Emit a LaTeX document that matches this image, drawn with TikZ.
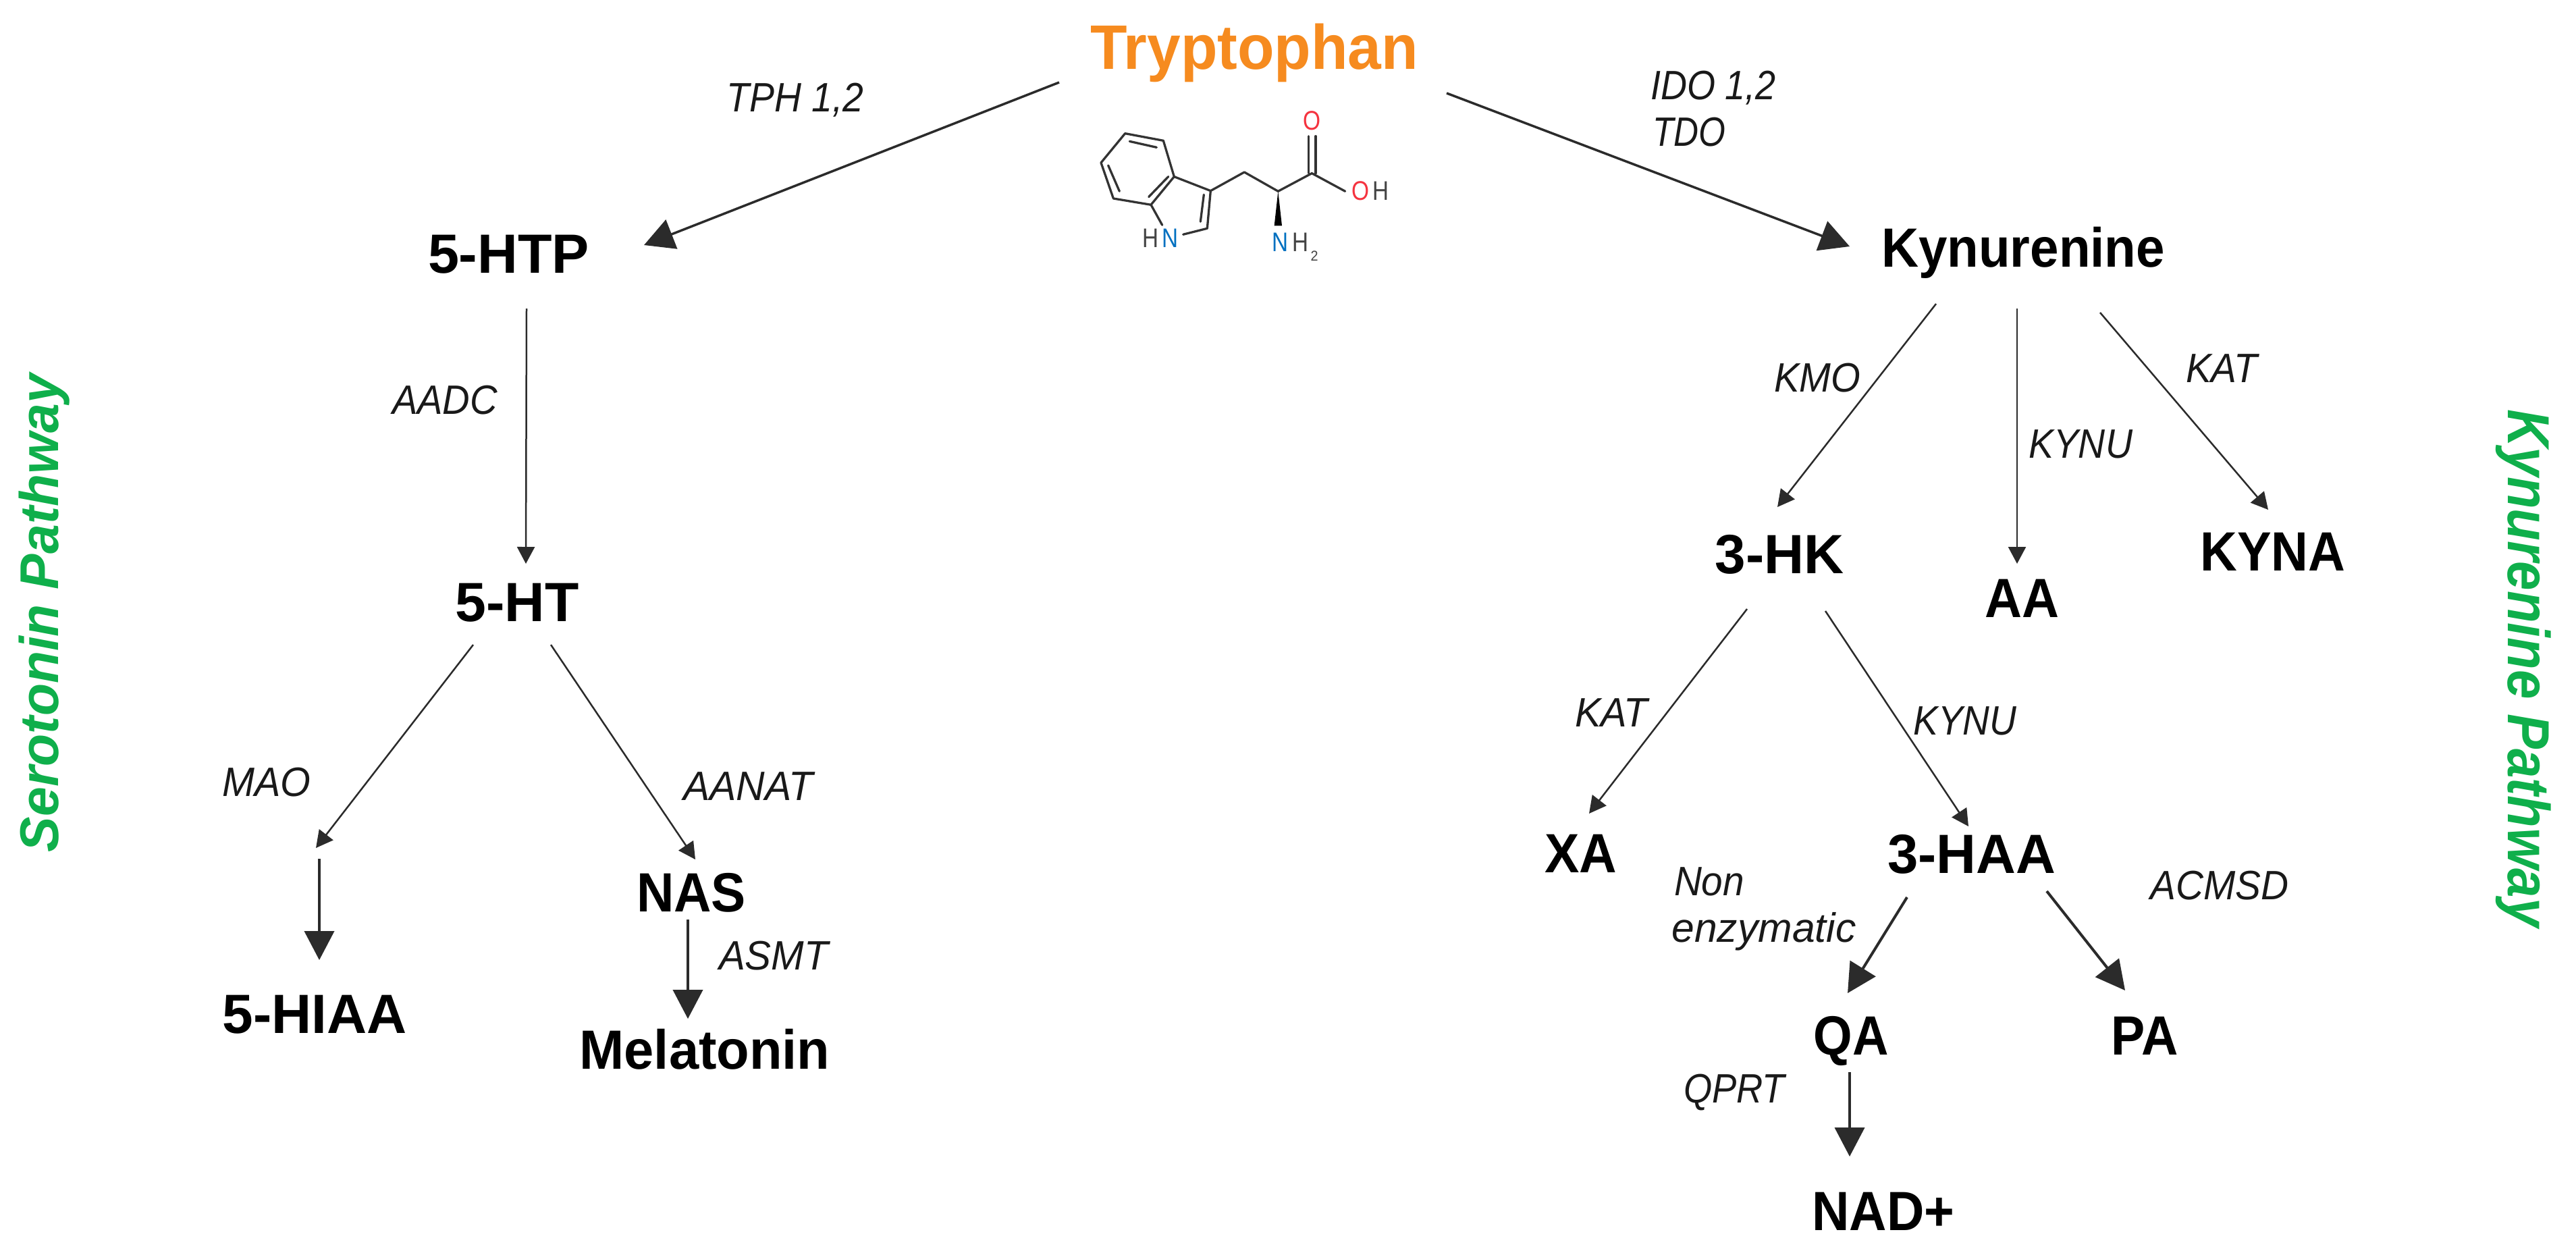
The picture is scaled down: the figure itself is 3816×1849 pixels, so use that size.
\documentclass[tikz,border=0pt]{standalone}
\usepackage{fontspec}
\usepackage{graphicx}
\setmainfont{Liberation Sans}
\usetikzlibrary{arrows.meta}
\newdimen\pxu \pxu=0.02cm
\newcommand{\tw}[2]{\resizebox{#1\pxu}{\height}{#2}}
\definecolor{arrowc}{HTML}{2B2B2B}
\definecolor{bondc}{HTML}{333333}
\definecolor{trporange}{HTML}{F68B1F}
\definecolor{pathgreen}{HTML}{0FAF4B}
\definecolor{atomred}{HTML}{F5333F}
\definecolor{atomblue}{HTML}{0070C0}
\definecolor{atomgray}{HTML}{444444}
\tikzset{
  base/.style={inner sep=0pt,outer sep=0pt,anchor=base},
  metab/.style={base,text=black,font=\fontsize{46.6}{47}\selectfont\bfseries},
  enzyme/.style={base,text=black!90,font=\fontsize{34.6}{35}\selectfont\itshape},
  titlenode/.style={base,text=trporange,font=\fontsize{53}{53}\selectfont\bfseries},
  pathway/.style={base,text=pathgreen,font=\fontsize{46}{47}\selectfont\bfseries\itshape},
  atom/.style={base,font=\fontsize{22.7}{23}\selectfont},
  bigarrow/.style={draw=arrowc,line width=0.7mm,-{Triangle[length=8.8mm,width=9.2mm]}},
  midarrow/.style={draw=arrowc,line width=0.8mm,-{Triangle[length=8.6mm,width=8.8mm]}},
  thinarrow/.style={draw=arrowc,line width=0.5mm,-{Triangle[length=5mm,width=5.2mm]}},
  bond/.style={draw=bondc,line width=0.66mm,line join=round,line cap=round},
}
\begin{document}
\begin{tikzpicture}[x=0.02cm,y=-0.02cm]
\useasboundingbox (0,0) rectangle (3816,1849);
\fill[white] (0,0) rectangle (3816,1849);
% metabolites
\node[titlenode] (try) at (1858,102) {\tw{486}{Tryptophan}};
\node[metab] (htp) at (753.5,404) {\tw{239}{5-HTP}};
\node[metab] (ht) at (766,920) {\tw{183}{5-HT}};
\node[metab] (hiaa) at (466,1530) {\tw{273}{5-HIAA}};
\node[metab] (nas) at (1024,1350) {\tw{162}{NAS}};
\node[metab] (mel) at (1044,1583) {\tw{371}{Melatonin}};
\node[metab] (kyn) at (2997,395) {\tw{420}{Kynurenine}};
\node[metab] (hk) at (2636,849) {\tw{191}{3-HK}};
\node[metab] (aa) at (2995,914) {\tw{110}{AA}};
\node[metab] (kyna) at (3367,845) {\tw{215}{KYNA}};
\node[metab] (xa) at (2342,1292) {\tw{107}{XA}};
\node[metab] (haa) at (2921,1293) {\tw{249}{3-HAA}};
\node[metab] (qa) at (2742,1562) {\tw{111}{QA}};
\node[metab] (pa) at (3177,1562) {\tw{99}{PA}};
\node[metab] (nad) at (2790,1822) {\tw{211}{NAD+}};
% enzymes
\node[enzyme] (e1) at (1178,165) {\tw{203}{TPH 1,2}};
\node[enzyme] (e2) at (659,613) {\tw{156}{AADC}};
\node[enzyme] (e3) at (395,1179) {\tw{131}{MAO}};
\node[enzyme] (e4) at (1108,1185) {\tw{192}{AANAT}};
\node[enzyme] (e5) at (1146,1436) {\tw{162}{ASMT}};
\node[enzyme] (e6) at (2538,147) {\tw{186}{IDO 1,2}};
\node[enzyme] (e7) at (2502,216) {\tw{108}{TDO}};
\node[enzyme] (e8) at (2692,580) {\tw{128}{KMO}};
\node[enzyme] (e9) at (3082,678) {\tw{154}{KYNU}};
\node[enzyme] (e10) at (3291,566) {\tw{106}{KAT}};
\node[enzyme] (e11) at (2387,1076) {\tw{108}{KAT}};
\node[enzyme] (e12) at (2911,1088) {\tw{153}{KYNU}};
\node[enzyme] (e13) at (2532,1326) {\tw{104}{Non}};
\node[enzyme] (e14) at (2613,1395) {\tw{273}{enzymatic}};
\node[enzyme] (e15) at (3288,1332) {\tw{205}{ACMSD}};
\node[enzyme] (e16) at (2569,1633) {\tw{150}{QPRT}};
% pathway titles
\node[pathway,rotate=90] (sp) at (86,908) {\tw{708}{Serotonin Pathway}};
\node[pathway,rotate=-90,font=\fontsize{50}{50}\selectfont\bfseries\itshape] (kp) at (3715,990) {\tw{767}{Kynurenine Pathway}};
% connectors
\coordinate (j1) at (468,1256);
\coordinate (j2) at (473,1272);
\draw[bigarrow] ([shift={(-289,20)}]try.base) -- ([shift={(200.5,-41)}]htp.base);
\draw[bigarrow] ([shift={(285,36)}]try.base) -- ([shift={(-257,-30)}]kyn.base);
\draw[thinarrow] ([shift={(26.5,53)}]htp.base) -- ([shift={(13,-85)}]ht.base);
\draw[thinarrow] ([shift={(-65,35)}]ht.base) -- (j1);
\draw[midarrow] (j2) -- ([shift={(7,-108)}]hiaa.base);
\draw[thinarrow] ([shift={(50,35)}]ht.base) -- ([shift={(6,-77)}]nas.base);
\draw[midarrow] ([shift={(-5,12)}]nas.base) -- ([shift={(-25,-74)}]mel.base);
\draw[thinarrow] ([shift={(-129,55)}]kyn.base) -- ([shift={(-3,-98)}]hk.base);
\draw[thinarrow] ([shift={(-9,62)}]kyn.base) -- ([shift={(-7,-79)}]aa.base);
\draw[thinarrow] ([shift={(114,68)}]kyn.base) -- ([shift={(-7,-90)}]kyna.base);
\draw[thinarrow] ([shift={(-48,53)}]hk.base) -- ([shift={(12,-87)}]xa.base);
\draw[thinarrow] ([shift={(68,56)}]hk.base) -- ([shift={(-5,-69)}]haa.base);
\draw[midarrow] ([shift={(-96,36)}]haa.base) -- ([shift={(-5,-91)}]qa.base);
\draw[midarrow] ([shift={(111,27)}]haa.base) -- ([shift={(-29,-95)}]pa.base);
\draw[midarrow] ([shift={(-2,26)}]qa.base) -- ([shift={(-50,-109)}]nad.base);
% tryptophan structure
\begin{scope}[shift={(1600,20)},x=0.00667cm,y=-0.00667cm]
\draw[bond] (200,533) -- (370,565) -- (418,725) -- (315,850) -- (148,822) -- (93,663) -- cycle;
\draw[bond] (220,568) -- (340,595);
\draw[bond] (125,675) -- (175,790);
\draw[bond] (305,815) -- (392,725);
\draw[bond] (418,725) -- (580,788) -- (565,955) -- (458,982);
\draw[bond] (315,850) -- (365,940);
\draw[bond] (550,805) -- (535,925);
\draw[bond] (580,788) -- (730,705) -- (880,790) -- (1030,710) -- (1178,790);
\draw[bond] (1015,710) -- (1015,545);
\draw[bond] (1047,710) -- (1047,545);
\fill[black] (880,790) -- (897,943) -- (863,943) -- cycle;
\node[atom,text=atomred] (ao) at (1031,517) {\tw{26}{O}};
\node[atom,text=atomred] (aoh) at (1247,830) {\tw{26}{O}};
\node[atom,text=atomgray] (ah1) at (1336,830) {\tw{24}{H}};
\node[atom,text=atomgray] (ah2) at (314,1040) {\tw{24}{H}};
\node[atom,text=atomblue] (an1) at (401,1040) {\tw{24}{N}};
\node[atom,text=atomblue] (an2) at (890,1058) {\tw{24}{N}};
\node[atom,text=atomgray] (ah3) at (979,1058) {\tw{24}{H}};
\node[atom,text=atomgray,font=\fontsize{12}{12}\selectfont] (a2) at (1041,1100) {\tw{11}{2}};
\end{scope}
\end{tikzpicture}
\end{document}
